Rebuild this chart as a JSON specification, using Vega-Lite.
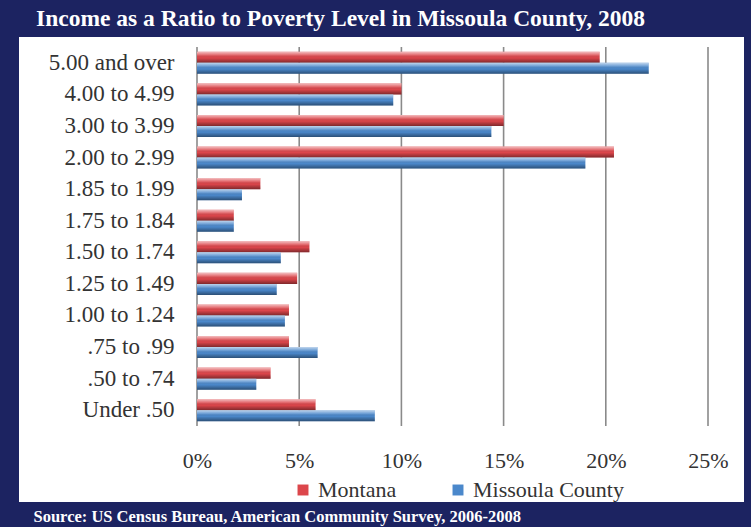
{
  "$schema": "https://vega.github.io/schema/vega-lite/v6.json",
  "width": 725,
  "height": 465,
  "autosize": {"type": "none"},
  "padding": {"left": 19, "top": 37, "right": 7, "bottom": 25},
  "background": "#1c2361",
  "config": {"view": {"fill": "white", "stroke": null}, "font": "Liberation Serif"},
  "title": {
    "text": "Income as a Ratio to Poverty Level in Missoula County, 2008",
    "anchor": "start",
    "color": "white",
    "font": "Liberation Serif",
    "fontSize": 23.5,
    "fontWeight": "bold",
    "dx": 17,
    "offset": 7
  },
  "datasets": {
    "bars": [
      {"cat": "5.00 and over", "series": "Montana", "value": 19.7},
      {"cat": "5.00 and over", "series": "Missoula County", "value": 22.1},
      {"cat": "4.00 to 4.99", "series": "Montana", "value": 10.0},
      {"cat": "4.00 to 4.99", "series": "Missoula County", "value": 9.6},
      {"cat": "3.00 to 3.99", "series": "Montana", "value": 15.0},
      {"cat": "3.00 to 3.99", "series": "Missoula County", "value": 14.4},
      {"cat": "2.00 to 2.99", "series": "Montana", "value": 20.4},
      {"cat": "2.00 to 2.99", "series": "Missoula County", "value": 19.0},
      {"cat": "1.85 to 1.99", "series": "Montana", "value": 3.1},
      {"cat": "1.85 to 1.99", "series": "Missoula County", "value": 2.2},
      {"cat": "1.75 to 1.84", "series": "Montana", "value": 1.8},
      {"cat": "1.75 to 1.84", "series": "Missoula County", "value": 1.8},
      {"cat": "1.50 to 1.74", "series": "Montana", "value": 5.5},
      {"cat": "1.50 to 1.74", "series": "Missoula County", "value": 4.1},
      {"cat": "1.25 to 1.49", "series": "Montana", "value": 4.9},
      {"cat": "1.25 to 1.49", "series": "Missoula County", "value": 3.9},
      {"cat": "1.00 to 1.24", "series": "Montana", "value": 4.5},
      {"cat": "1.00 to 1.24", "series": "Missoula County", "value": 4.3},
      {"cat": ".75 to .99", "series": "Montana", "value": 4.5},
      {"cat": ".75 to .99", "series": "Missoula County", "value": 5.9},
      {"cat": ".50 to .74", "series": "Montana", "value": 3.6},
      {"cat": ".50 to .74", "series": "Missoula County", "value": 2.9},
      {"cat": "Under .50", "series": "Montana", "value": 5.8},
      {"cat": "Under .50", "series": "Missoula County", "value": 8.7}
    ],
    "grid": [
      {"value": 0}, {"value": 5}, {"value": 10}, {"value": 15}, {"value": 20}, {"value": 25}
    ]
  },
  "layer": [
    {
      "data": {"name": "grid"},
      "mark": {"type": "rule", "color": "#8a8a8a", "strokeWidth": 1.6},
      "encoding": {
        "x": {"field": "value", "type": "quantitative"},
        "y": {"datum": "5.00 and over", "type": "nominal", "bandPosition": -0.21},
        "y2": {"datum": "Under .50", "bandPosition": 1.21}
      }
    },
    {
      "data": {"name": "bars"},
      "mark": {"type": "bar"},
      "encoding": {
        "x": {
          "field": "value",
          "type": "quantitative",
          "scale": {"domain": [0, 25], "range": [178, 689], "nice": false, "zero": true},
          "axis": {
            "values": [0, 5, 10, 15, 20, 25],
            "labelExpr": "datum.value + '%'",
            "labelFlush": false,
            "grid": false,
            "domain": false,
            "ticks": false,
            "labelPadding": -52,
            "labelFontSize": 22,
            "labelColor": "#333333",
            "title": "Source: US  Census Bureau, American Community Survey, 2006-2008",
            "titleColor": "white",
            "titleFont": "Liberation Serif",
            "titleFontSize": 16.5,
            "titleFontWeight": "bold",
            "titleAnchor": "start",
            "titleAlign": "left",
            "titleBaseline": "middle",
            "titleX": 14,
            "titleY": 14
          }
        },
        "y": {
          "field": "cat",
          "type": "nominal",
          "sort": null,
          "scale": {
            "domain": ["5.00 and over", "4.00 to 4.99", "3.00 to 3.99", "2.00 to 2.99", "1.85 to 1.99", "1.75 to 1.84", "1.50 to 1.74", "1.25 to 1.49", "1.00 to 1.24", ".75 to .99", ".50 to .74", "Under .50"],
            "range": [10, 389],
            "paddingInner": 0.3,
            "paddingOuter": 0.15
          },
          "axis": {
            "title": null,
            "domain": false,
            "ticks": false,
            "grid": false,
            "labelPadding": -155,
            "labelFontSize": 23,
            "labelColor": "#333333",
            "labelLimit": 0
          }
        },
        "yOffset": {
          "field": "series",
          "type": "nominal",
          "sort": ["Montana", "Missoula County"],
          "scale": {"paddingInner": 0}
        },
        "color": {
          "field": "series",
          "type": "nominal",
          "sort": ["Montana", "Missoula County"],
          "scale": {"domain": ["Montana", "Missoula County"], "range": ["#dc464b", "#4b88cb"]},
          "legend": {
            "orient": "none",
            "legendX": 273,
            "legendY": 442,
            "direction": "horizontal",
            "title": null,
            "labelFontSize": 22,
            "labelColor": "#333333",
            "labelFont": "Liberation Serif",
            "symbolType": "square",
            "symbolSize": 120,
            "symbolStrokeWidth": 0,
            "labelOffset": 4,
            "columnPadding": 50
          }
        }
      }
    },
    {
      "data": {"name": "bars"},
      "mark": {
        "type": "bar",
        "fill": {
          "gradient": "linear",
          "x1": 0, "y1": 0, "x2": 0, "y2": 1,
          "stops": [
            {"offset": 0, "color": "rgba(255,255,255,0.65)"},
            {"offset": 0.3, "color": "rgba(255,255,255,0.2)"},
            {"offset": 0.55, "color": "rgba(0,0,0,0)"},
            {"offset": 1, "color": "rgba(0,0,0,0.42)"}
          ]
        }
      },
      "encoding": {
        "x": {"field": "value", "type": "quantitative"},
        "y": {"field": "cat", "type": "nominal", "sort": null},
        "yOffset": {"field": "series", "type": "nominal", "sort": ["Montana", "Missoula County"]}
      }
    }
  ]
}
